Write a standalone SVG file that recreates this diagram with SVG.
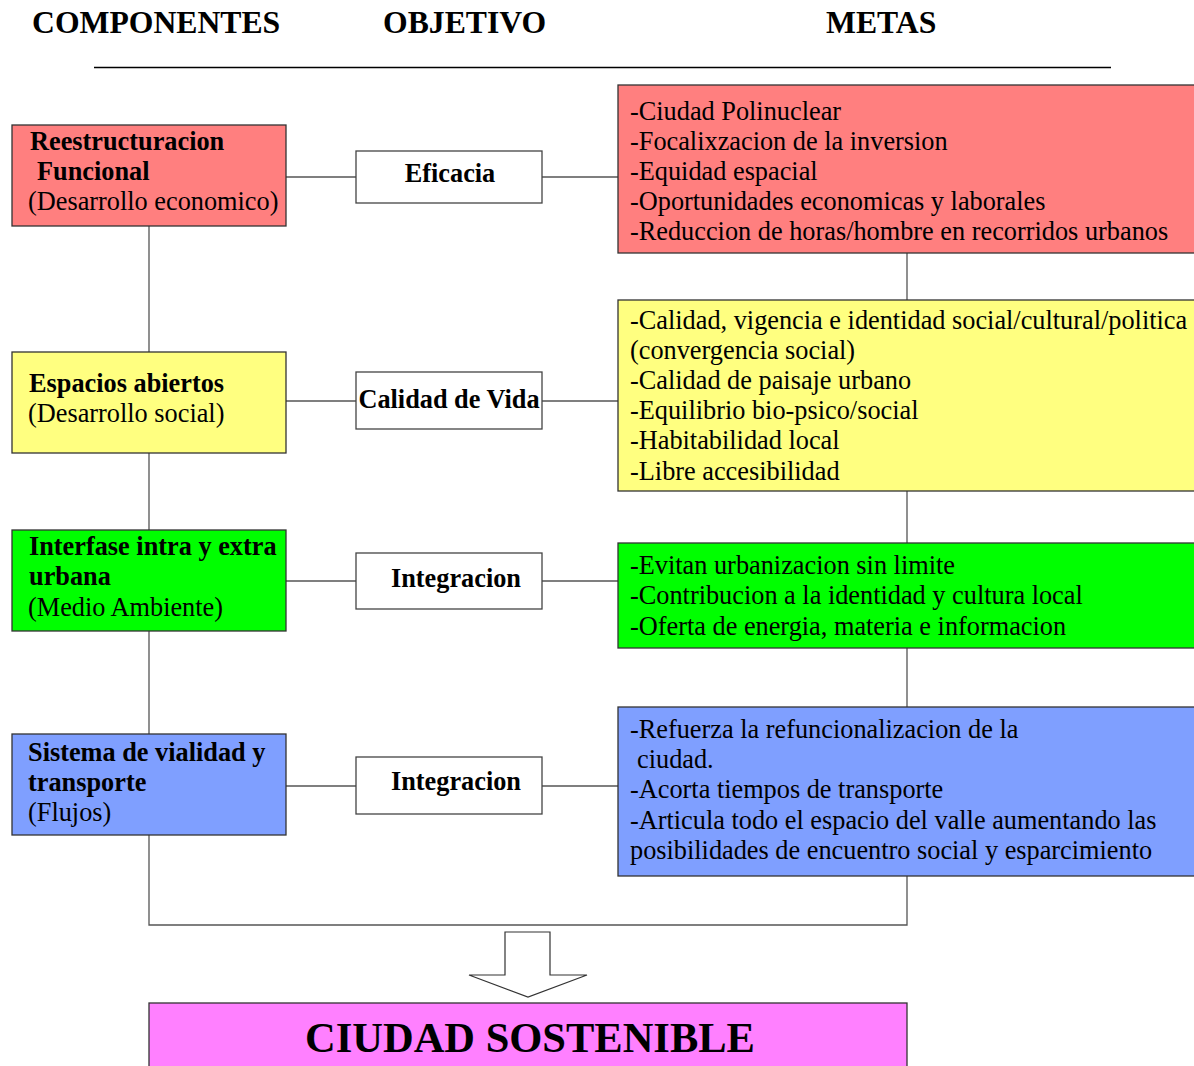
<svg xmlns="http://www.w3.org/2000/svg" width="1194" height="1066" viewBox="0 0 1194 1066">
<style>
text{font-family:"Liberation Serif","Times New Roman",serif;fill:#000}
.h{font-size:31.7px;font-weight:bold}
.b{font-size:26.3px;font-weight:bold}
.r{font-size:26.3px}
.box{stroke:#333;stroke-width:1.3}
.mid{fill:#fff;stroke:#444;stroke-width:1.3}
.ln{stroke:#555;stroke-width:1.3;fill:none}
</style>
<rect width="1194" height="1066" fill="#fff"/>
<g id="header">
<text class="h" x="32" y="33">COMPONENTES</text>
<text class="h" x="383" y="33">OBJETIVO</text>
<text class="h" x="826" y="33">METAS</text>
<line x1="94" y1="67.5" x2="1111" y2="67.5" stroke="#000" stroke-width="1.3"/>
</g>
<g id="connectors">
<line class="ln" x1="286" y1="177" x2="356" y2="177"/>
<line class="ln" x1="542" y1="177" x2="618" y2="177"/>
<line class="ln" x1="286" y1="401" x2="356" y2="401"/>
<line class="ln" x1="542" y1="401" x2="618" y2="401"/>
<line class="ln" x1="286" y1="581" x2="356" y2="581"/>
<line class="ln" x1="542" y1="581" x2="618" y2="581"/>
<line class="ln" x1="286" y1="786" x2="356" y2="786"/>
<line class="ln" x1="542" y1="786" x2="618" y2="786"/>
<polyline class="ln" points="149,226 149,925 907,925 907,253"/>
</g>
<g id="comp1">
<rect class="box" x="12" y="125" width="274" height="101" fill="#FF7F7F"/>
<text class="b" x="30" y="150">Reestructuracion</text>
<text class="b" x="37" y="180">Funcional</text>
<text class="r" x="28" y="210">(Desarrollo economico)</text>
</g>
<g id="comp2">
<rect class="box" x="12" y="352" width="274" height="101" fill="#FFFF80"/>
<text class="b" x="29" y="392">Espacios abiertos</text>
<text class="r" x="28" y="422">(Desarrollo social)</text>
</g>
<g id="comp3">
<rect class="box" x="12" y="530" width="274" height="101" fill="#00FF00"/>
<text class="b" x="29" y="555">Interfase intra y extra</text>
<text class="b" x="29" y="585">urbana</text>
<text class="r" x="28" y="616">(Medio Ambiente)</text>
</g>
<g id="comp4">
<rect class="box" x="12" y="734" width="274" height="101" fill="#7F9FFF"/>
<text class="b" x="28" y="761">Sistema de vialidad y</text>
<text class="b" x="28" y="791">transporte</text>
<text class="r" x="28" y="821">(Flujos)</text>
</g>
<g id="obj1">
<rect class="mid" x="356" y="151" width="186" height="52"/>
<text class="b" x="450" y="182" text-anchor="middle">Eficacia</text>
</g>
<g id="obj2">
<rect class="mid" x="356" y="372" width="186" height="57"/>
<text class="b" x="449" y="408" text-anchor="middle">Calidad de Vida</text>
</g>
<g id="obj3">
<rect class="mid" x="356" y="553" width="186" height="56"/>
<text class="b" x="456" y="587" text-anchor="middle">Integracion</text>
</g>
<g id="obj4">
<rect class="mid" x="356" y="757" width="186" height="57"/>
<text class="b" x="456" y="790" text-anchor="middle">Integracion</text>
</g>
<g id="meta1">
<rect class="box" x="618" y="85" width="580" height="168" fill="#FF7F7F"/>
<text class="r" x="630" y="120">-Ciudad Polinuclear</text>
<text class="r" x="630" y="150">-Focalixzacion de la inversion</text>
<text class="r" x="630" y="180">-Equidad espacial</text>
<text class="r" x="630" y="210">-Oportunidades economicas y laborales</text>
<text class="r" x="630" y="240">-Reduccion de horas/hombre en recorridos urbanos</text>
</g>
<g id="meta2">
<rect class="box" x="618" y="300" width="580" height="191" fill="#FFFF80"/>
<text class="r" x="630" y="329">-Calidad, vigencia e identidad social/cultural/politica</text>
<text class="r" x="630" y="359">(convergencia social)</text>
<text class="r" x="630" y="389">-Calidad de paisaje urbano</text>
<text class="r" x="630" y="419">-Equilibrio bio-psico/social</text>
<text class="r" x="630" y="449">-Habitabilidad local</text>
<text class="r" x="630" y="480">-Libre accesibilidad</text>
</g>
<g id="meta3">
<rect class="box" x="618" y="543" width="580" height="105" fill="#00FF00"/>
<text class="r" x="630" y="574">-Evitan urbanizacion sin limite</text>
<text class="r" x="630" y="604">-Contribucion a la identidad y cultura local</text>
<text class="r" x="630" y="635">-Oferta de energia, materia e informacion</text>
</g>
<g id="meta4">
<rect class="box" x="618" y="707" width="580" height="169" fill="#7F9FFF"/>
<text class="r" x="630" y="738">-Refuerza la refuncionalizacion de la</text>
<text class="r" x="637" y="768">ciudad.</text>
<text class="r" x="630" y="798">-Acorta tiempos de transporte</text>
<text class="r" x="630" y="829">-Articula todo el espacio del valle aumentando las</text>
<text class="r" x="630" y="859">posibilidades de encuentro social y esparcimiento</text>
</g>
<g id="arrow">
<polygon points="505,932 550,932 550,975 587,975 528,997 469,975 505,975" fill="#fff" stroke="#333" stroke-width="1.2"/>
</g>
<g id="result">
<rect class="box" x="149" y="1003" width="758" height="70" fill="#FF80FF"/>
<text x="530" y="1052" text-anchor="middle" style="font-size:42.5px;font-weight:bold">CIUDAD SOSTENIBLE</text>
</g>
</svg>
